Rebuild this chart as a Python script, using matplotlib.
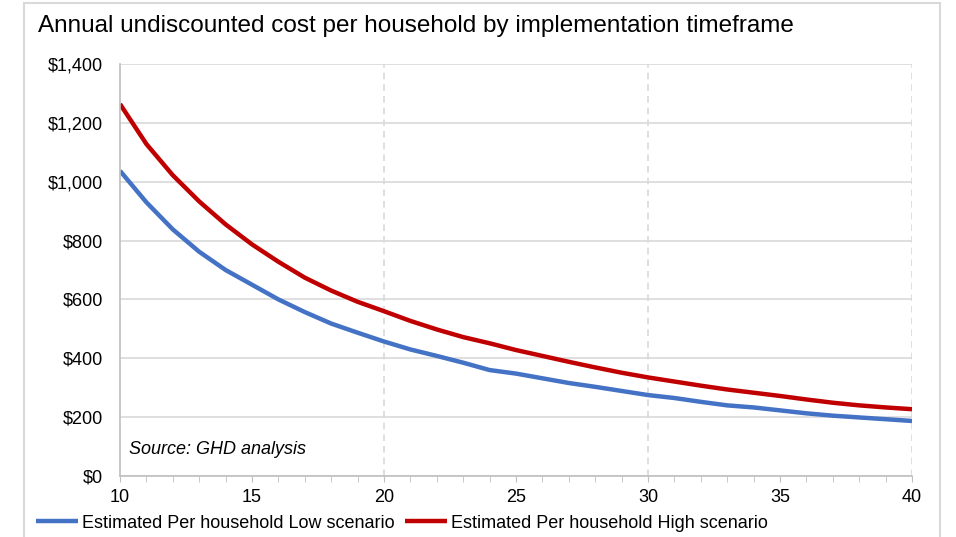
import numpy as np
import matplotlib.pyplot as plt
from matplotlib.patches import Rectangle
from matplotlib.ticker import FuncFormatter, MultipleLocator

plt.rcParams['font.family'] = ['Liberation Sans', 'DejaVu Sans']

# Data
years = list(range(10, 41))
low = [1037, 930, 838, 762, 700, 650, 600, 557, 518, 487, 457,
       430, 408, 385, 360, 348, 332, 316, 303, 289, 275,
       265, 252, 240, 233, 223, 213, 205, 199, 193, 187]
high = [1264, 1128, 1022, 933, 855, 787, 728, 674, 630, 592, 560,
        527, 498, 472, 451, 428, 408, 388, 369, 351, 335,
        321, 307, 294, 283, 272, 260, 249, 240, 233, 227]

low_label = 'Estimated Per household Low scenario'
high_label = 'Estimated Per household High scenario'
title = 'Annual undiscounted cost per household by implementation timeframe'

grey = '#d9d9d9'

fig = plt.figure(figsize=(9.56, 5.37), dpi=100, facecolor='w')
fig.patches.append(Rectangle((24 / 956, -0.1), (940 - 24) / 956, 1.1 - 3 / 537,
                             transform=fig.transFigure, fill=False,
                             edgecolor=grey, linewidth=1.5))

ax = fig.add_axes([120 / 956, 1 - 476 / 537, (912 - 120) / 956, (476 - 64) / 537])
ax.plot(years, low, color='#4472c4', linewidth=3.2, label=low_label, solid_capstyle='butt')
ax.plot(years, high, color='#c00000', linewidth=3.2, label=high_label, solid_capstyle='butt')

ax.set_xlim(10, 40)
ax.set_ylim(0, 1400)
ax.yaxis.set_major_locator(MultipleLocator(200))
ax.yaxis.set_major_formatter(FuncFormatter(lambda v, p: f'${v:,.0f}'))
ax.xaxis.set_major_locator(MultipleLocator(5))
ax.xaxis.set_minor_locator(MultipleLocator(1))

ax.grid(axis='y', color=grey, linewidth=1.2)
for x in (20, 30, 40):
    ax.axvline(x, color=grey, linewidth=1.2, linestyle=(0, (4, 3)), zorder=0)
ax.set_axisbelow(True)

for s in ('top', 'right'):
    ax.spines[s].set_visible(False)
for s in ('left', 'bottom'):
    ax.spines[s].set_color('#bfbfbf')
    ax.spines[s].set_linewidth(1.2)

ax.tick_params(axis='y', length=0, pad=12, labelsize=13)
ax.tick_params(axis='x', which='both', direction='out', length=4,
               color='#bfbfbf', pad=5, labelsize=13)

ax.text(10.35, 75, 'Source: GHD analysis', style='italic', fontsize=13)

fig.text(38 / 956, 1 - 26 / 537, title, fontsize=17.5, va='center', ha='left')

fig.legend(loc='center left', bbox_to_anchor=(36 / 956, 1 - 523 / 537), ncol=2,
           frameon=False, fontsize=13, handlelength=2.35, handletextpad=0.22,
           columnspacing=0.55, borderaxespad=0, borderpad=0)

fig.savefig('out.png', dpi=100)
